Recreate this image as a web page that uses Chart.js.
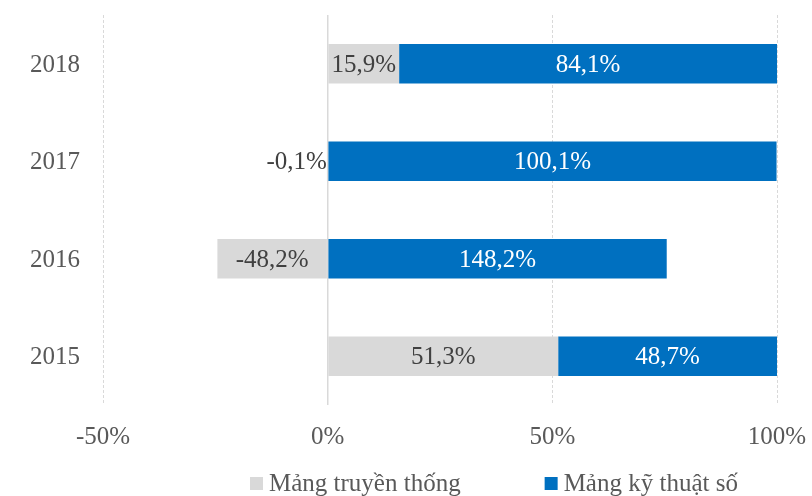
<!DOCTYPE html>
<html>
<head>
<meta charset="utf-8">
<script src="https://cdn.jsdelivr.net/npm/chart.js@4"></script>
<style>
  html, body { margin: 0; padding: 0; background: #ffffff; }
  #wrap { width: 812px; height: 496px; }
</style>
</head>
<body>
<div id="wrap"><canvas id="c" width="812" height="496"></canvas></div>
<script>
// Revenue structure by year (percent of change), top row first
const years = ['2018', '2017', '2016', '2015'];
const traditional = [15.9, -0.1, -48.2, 51.3];
const digital = [84.1, 100.1, 148.2, 48.7];
const seriesNames = ['Mảng truyền thống', 'Mảng kỹ thuật số'];
const axisTicks = [-50, 0, 50, 100];

const FONT = '"Liberation Serif", "DejaVu Serif", serif';
const GREY = '#D9D9D9';
const BLUE = '#0070C0';

// 100% stacked: each segment is its share of the sum of absolute values
function shares(values) {
  return values.map((v, k) => v / (Math.abs(traditional[k]) + Math.abs(digital[k])) * 100);
}
const fmt = v => v.toFixed(1).replace('.', ',') + '%';

const labelPlugin = {
  id: 'segmentLabels',
  afterDatasetsDraw(chart) {
    const ctx = chart.ctx;
    ctx.save();
    ctx.font = '25px ' + FONT;
    ctx.textBaseline = 'middle';
    chart.data.datasets.forEach((ds, di) => {
      const meta = chart.getDatasetMeta(di);
      meta.data.forEach((bar, i) => {
        const text = fmt(ds.raw[i]);
        const w = ctx.measureText(text).width;
        const left = Math.min(bar.x, bar.base);
        const right = Math.max(bar.x, bar.base);
        const y = bar.y + 1.5;
        ctx.fillStyle = di === 0 ? '#404040' : '#FFFFFF';
        if (right - left < w + 4) {
          ctx.fillStyle = '#404040';
          ctx.textAlign = 'right';
          ctx.fillText(text, left, y);
        } else {
          ctx.textAlign = 'center';
          ctx.fillText(text, (left + right) / 2, y);
        }
      });
    });
    ctx.restore();
  }
};

const legendPlugin = {
  id: 'bottomLegend',
  afterDraw(chart) {
    const ctx = chart.ctx;
    ctx.save();
    ctx.font = '25px ' + FONT;
    ctx.textBaseline = 'middle';
    ctx.textAlign = 'left';
    const y = 484;
    let x = 250;
    chart.data.datasets.forEach((ds) => {
      ctx.fillStyle = ds.backgroundColor;
      ctx.fillRect(x, y - 7, 13, 13);
      x += 13 + 6;
      ctx.fillStyle = '#595959';
      ctx.fillText(ds.label, x, y);
      x += ctx.measureText(ds.label).width + 84;
    });
    ctx.restore();
  }
};

new Chart(document.getElementById('c'), {
  type: 'bar',
  data: {
    labels: years,
    datasets: [
      { label: seriesNames[0], raw: traditional, data: shares(traditional), backgroundColor: GREY, borderWidth: 0 },
      { label: seriesNames[1], raw: digital, data: shares(digital), backgroundColor: BLUE, borderWidth: 0 }
    ]
  },
  options: {
    indexAxis: 'y',
    responsive: false,
    animation: false,
    devicePixelRatio: 1,
    layout: { padding: { left: 0, right: 35, top: 15, bottom: 46 } },
    datasets: { bar: { categoryPercentage: 1, barPercentage: 0.405 } },
    plugins: { legend: { display: false }, tooltip: { enabled: false } },
    scales: {
      x: {
        stacked: true,
        min: axisTicks[0],
        max: axisTicks[axisTicks.length - 1],
        afterBuildTicks(scale) { scale.ticks = axisTicks.map(v => ({ value: v })); },
        afterFit(scale) {
          scale.height = 45;
          scale.paddingLeft = 0;
          scale.paddingRight = 0;
        },
        ticks: {
          padding: 17,
          color: '#595959',
          font: { family: FONT, size: 25 },
          callback: v => v + '%'
        },
        grid: {
          drawTicks: false,
          color: GREY,
          lineWidth: c => (c.tick && c.tick.value === 0 ? 1.5 : 1)
        },
        border: {
          display: false,
          dash: c => (c.tick && c.tick.value === 0 ? [] : [3, 2])
        }
      },
      y: {
        stacked: true,
        afterFit(scale) {
          scale.width = 103;
          scale.paddingTop = 0;
          scale.paddingBottom = 0;
        },
        ticks: {
          padding: 23,
          labelOffset: 1.5,
          color: '#595959',
          font: { family: FONT, size: 25 }
        },
        grid: { display: false, drawTicks: false },
        border: { display: false }
      }
    }
  },
  plugins: [labelPlugin, legendPlugin]
});
</script>
</body>
</html>
